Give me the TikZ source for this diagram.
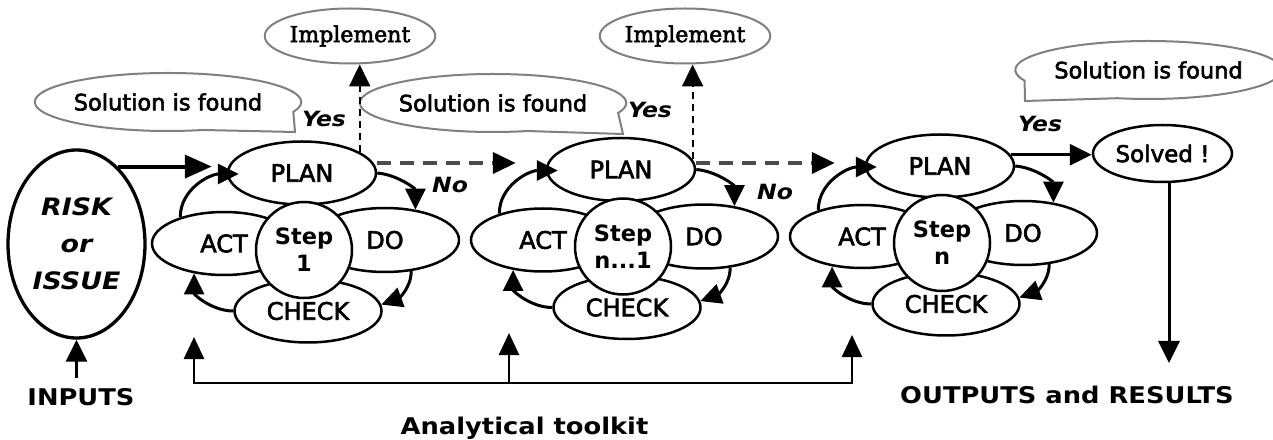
\documentclass[tikz,border=0pt]{standalone}
\usepackage{fontspec}
\setmainfont{DejaVu Sans}
\newfontfamily\labelfont[FakeBold=2.5]{DejaVu Sans}
\newfontfamily\widefont[FakeStretch=1.12,
  ItalicFont={DejaVu Sans Oblique},
  BoldFont={DejaVu Sans Bold},
  BoldItalicFont={DejaVu Sans Bold Oblique}]{DejaVu Sans}
\newfontfamily\slabfont[FakeBold=2.5]{DejaVu Serif}
\usetikzlibrary{shapes.geometric,shapes.callouts,arrows.meta,calc}

% One PDCA cycle: PLAN, DO, CHECK, ACT round a central step circle
% #1 = suffix of the node names, (#2,#3) = centre of PLAN, #4 = step number
\newcommand{\pdcacycle}[4]{%
  \node[stage, minimum width=148pt, minimum height=63pt] (plan#1) at (#2,#3) {PLAN};
  \node[stage, minimum width=144pt, minimum height=63pt] (act#1) at (#2-78,#3-70.5) {ACT};
  \node[stage, minimum width=148pt, minimum height=64pt] (do#1) at (#2+83,#3-67) {DO};
  \node[stage, minimum width=147pt, minimum height=63pt] (check#1) at (#2+6,#3-138) {CHECK};
  \node[hub] (hub#1) at (#2+2,#3-77) {Step\\#4};
  \draw[cyc] (act#1.149) to[out=90,in=180] ([xshift=12pt,yshift=-1pt]plan#1.west);
  \draw[cyc] (plan#1.east) to[out=-5,in=90] (do#1.45);
  \draw[cyc] (do#1.-50) to[out=-90,in=20] (check#1.5);
  \draw[cyc] (check#1.west) to[out=180,in=-90] (act#1.225);
}

\begin{document}
\begin{tikzpicture}[x=1pt,y=1pt,
  stage/.style={ellipse, draw, line width=2.5pt, fill=white, inner sep=0pt,
    font=\labelfont\fontsize{24}{28}\selectfont},
  hub/.style={circle, draw, line width=2.5pt, fill=white, inner sep=0pt,
    minimum size=96pt, align=center, font=\bfseries\fontsize{22.5}{27}\selectfont},
  thought/.style={ellipse callout, draw=black!50, line width=2pt, fill=white,
    inner sep=0pt, minimum width=248pt, minimum height=58pt,
    callout pointer arc=55, font=\labelfont\fontsize{22.5}{27}\selectfont},
  outcome/.style={ellipse, draw=black!50, line width=2pt, fill=white,
    inner sep=0pt, minimum width=137pt, minimum height=55pt,
    font=\slabfont\fontsize{22}{26}\selectfont},
  goal/.style={ellipse, draw, line width=2.5pt, fill=white, inner sep=0pt,
    minimum width=139pt, minimum height=57pt, font=\labelfont\fontsize{23}{27}\selectfont},
  answer/.style={anchor=base, font=\widefont\bfseries\itshape\fontsize{21}{25}\selectfont},
  caption/.style={anchor=base, font=\widefont\bfseries\fontsize{23}{27}\selectfont},
  cyc/.style={line width=3pt, -{Triangle[length=21pt,width=20pt]}},
  flow/.style={line width=3pt, -{Triangle[length=22pt,width=21pt]}},
  bigflow/.style={line width=4pt, -{Triangle[length=27pt,width=23pt]}},
  vdash/.style={line width=2pt, dash pattern=on 7pt off 5pt,
    -{Triangle[length=22pt,width=21pt]}},
  hdash/.style={line width=4pt, draw=black!70, dash pattern=on 14pt off 9pt,
    -{Triangle[length=23pt,width=21pt,color=black]}},
]
\fill[white] (0,0) rectangle (1273,439);
\useasboundingbox (0,0) rectangle (1273,439);

% the issue being treated
\node[ellipse, draw, line width=3.3pt, fill=white, inner sep=0pt,
  minimum width=137pt, minimum height=188pt, align=center,
  font=\widefont\bfseries\itshape\fontsize{24}{37}\selectfont]
  (risk) at (76.5,195) {RISK\\or\\ISSUE};
\node[caption] (inputs) at (81,34) {INPUTS};
\coordinate (intail) at (77,61);
\draw[flow] (risk.south |- intail) -- (risk.south);

% the three cycles
\pdcacycle{1}{302}{266}{1}
\pdcacycle{2}{621}{269.5}{n...1}
\pdcacycle{3}{940}{273}{n}

% entry into the first cycle
\coordinate (inend) at ([xshift=-15pt]plan1.west);
\draw[bigflow] (risk.62) -- (risk.62 -| inend);

% callouts and implementation
\coordinate (tip1) at (295,307);
\coordinate (tip2) at (623,305);
\coordinate (tip3) at (1025,338);
\node[thought, callout absolute pointer={(tip1)}] (sol1) at (168,337) {Solution is found};
\node[thought, callout absolute pointer={(tip2)}] (sol2) at (493,336) {Solution is found};
\node[thought, callout absolute pointer={(tip3)}, minimum width=247pt] (sol3) at (1148.5,369) {Solution is found};

\node[outcome] (impl1) at (350,403) {Implement};
\node[outcome] (impl2) at (685,403) {Implement};
\draw[vdash] (plan1.20) -- (plan1.20 |- impl1.south);
\draw[vdash] (plan2.8) -- (plan2.8 |- impl2.south);

% unsolved: go on to the next cycle
\coordinate (d1) at ([yshift=10pt]plan1.east);
\coordinate (d1end) at ([xshift=-30pt]plan2.west);
\draw[hdash] (d1) -- (d1 -| d1end);
\coordinate (d2) at ([yshift=6.5pt]plan2.east);
\coordinate (d2end) at ([xshift=-30pt]plan3.west);
\draw[hdash] (d2) -- (d2 -| d2end);

\node[answer] (yes1) at (324,312) {Yes};
\node[answer] (yes2) at (650,321) {Yes};
\node[answer] (yes3) at (1040,307) {Yes};
\node[answer] (no1) at (450,246) {No};
\node[answer] (no2) at (775,239) {No};

% result
\node[goal] (solved) at (1162.5,285.5) {Solved !};
\draw[flow] (plan3.9) -- (plan3.9 -| solved.west);
\coordinate (outtip) at (1169,76);
\draw[flow] (solved.south -| outtip) -- (outtip);
\node[caption] (outputs) at (1067,36) {OUTPUTS and RESULTS};

% analytical toolkit feeding every cycle
\node[caption] (toolkit) at (524.5,5) {Analytical toolkit};
\coordinate (tkbase) at (0,56);
\coordinate (tk1) at (194,102);
\coordinate (tk2) at (509,106);
\coordinate (tk3) at (852,104);
\draw[line width=2.7pt, {Triangle[length=22pt,width=20pt]}-{Triangle[length=22pt,width=20pt]}]
  (tk1) -- (tk1 |- tkbase) -- (tk3 |- tkbase) -- (tk3);
\draw[line width=2.7pt, -{Triangle[length=22pt,width=20pt]}] (tk2 |- tkbase) -- (tk2);
\end{tikzpicture}
\end{document}
